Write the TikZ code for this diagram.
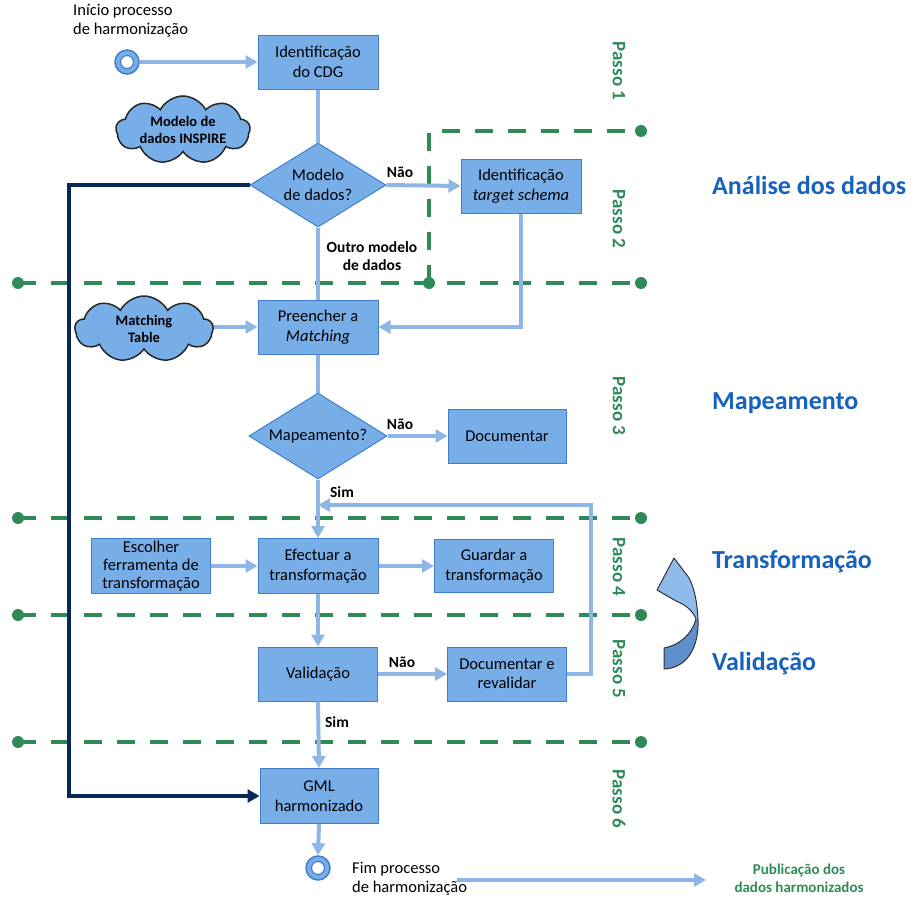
\documentclass[tikz,border=0pt]{standalone}
\usepackage{fontspec}
\setmainfont{Carlito}
\usetikzlibrary{arrows.meta,shapes.geometric,shapes.symbols}
\definecolor{boxfill}{RGB}{120,174,232}
\definecolor{boxline}{RGB}{66,125,200}
\definecolor{conn}{RGB}{141,182,230}
\definecolor{navy}{RGB}{8,40,88}
\definecolor{grn}{RGB}{46,139,87}
\definecolor{ttl}{RGB}{22,98,188}
\definecolor{arrlight}{RGB}{142,187,234}
\definecolor{arrdark}{RGB}{94,143,203}
\begin{document}
\begin{tikzpicture}[x=1pt,y=-1pt,
  box/.style={draw=boxline, line width=1pt, fill=boxfill, minimum width=120pt, minimum height=54pt, align=center, inner sep=1pt, font=\fontsize{16.5}{19.5}\selectfont},
  dia/.style={diamond, draw=boxline, line width=1pt, fill=boxfill, aspect=1.6, inner sep=0pt, minimum width=136pt, minimum height=84pt, align=center, font=\fontsize{16.5}{19.5}\selectfont},
  cld/.style={cloud, cloud puffs=9, cloud puff arc=125, cloud ignores aspect, draw=black!85, line width=1.5pt, fill=boxfill, inner sep=0pt},
  cldtxt/.style={align=center, inner sep=0pt, font=\bfseries\fontsize{14.5}{17.5}\selectfont},
  term/.style={circle, draw=boxline, line width=1.5pt, fill=boxfill, minimum size=24pt, inner sep=0pt},
  conline/.style={draw=conn, line width=4pt},
  arr/.style={conline, -{Triangle[length=12pt,width=13pt]}},
  navyarr/.style={draw=navy, line width=4pt, -{Triangle[length=12pt,width=13pt]}},
  gdash/.style={draw=grn, line width=4pt, dash pattern=on 18pt off 15pt},
  gdot/.style={circle, fill=grn, minimum size=12pt, inner sep=0pt},
  lbl/.style={font=\bfseries\fontsize{15.5}{18}\selectfont, inner sep=0pt},
  passo/.style={text=grn, rotate=-90, font=\bfseries\fontsize{19}{22}\selectfont},
  ttlstyle/.style={text=ttl, anchor=west, inner sep=0pt, font=\bfseries\fontsize{26}{30}\selectfont},
  plain/.style={align=left, font=\fontsize{16.5}{19}\selectfont, inner sep=0pt}
]
\useasboundingbox (0,0) rectangle (922,902);

% ---------- green step separators ----------
\node[gdot] (g1l) at (18,283) {};
\node[gdot] (g1r) at (641,283) {};
\node[gdot] (g1m) at (429,283) {};
\node[gdot] (g0r) at (641,131) {};
\node[gdot] (g2l) at (18,518) {};
\node[gdot] (g2r) at (641,518) {};
\node[gdot] (g3l) at (18,615) {};
\node[gdot] (g3r) at (641,615) {};
\node[gdot] (g4l) at (18,742) {};
\node[gdot] (g4r) at (641,742) {};
\draw[gdash] (g1l.center) -- (g1r.center);
\draw[gdash] (g1m.center) |- (g0r.center);
\draw[gdash] (g2l.center) -- (g2r.center);
\draw[gdash] (g3l.center) -- (g3r.center);
\draw[gdash] (g4l.center) -- (g4r.center);

\node[passo] (p1) at (619,71) {Passo 1};
\node[passo] (p2) at (619,219) {Passo 2};
\node[passo] (p3) at (619,406) {Passo 3};
\node[passo] (p4) at (619,567) {Passo 4};
\node[passo] (p5) at (619,669) {Passo 5};
\node[passo] (p6) at (619,799) {Passo 6};

% ---------- titles ----------
\node[ttlstyle] (t1) at (712,185) {Análise dos dados};
\node[ttlstyle] (t2) at (712,403) {Mapeamento};
\node[ttlstyle] (t3) at (712,562) {Transformação};
\node[ttlstyle] (t4) at (712,664) {Validação};

% curved arrow
\def\curvarrow{(674,558) -- (657,590) -- (676,601)
  .. controls (686,605) and (693,611) .. (696,619)
  .. controls (692,634) and (680,645) .. (664,648)
  -- (664,669) .. controls (688,668) and (699,646) .. (698,620)
  .. controls (697,602) and (695,590) .. (689,578) -- cycle}
\path[fill=arrlight] \curvarrow;
\begin{scope}
\clip (650,619) rectangle (710,680);
\path[fill=arrdark] \curvarrow;
\end{scope}
\draw[line width=1pt, draw=black!80, line join=round] \curvarrow;

% ---------- nodes ----------
\node[term] (start) at (127,62) {};
\draw[draw=boxline, line width=1.2pt, fill=white] (start.center) circle[radius=6.5];
\node[plain, anchor=west] (startlbl) at (73,21) {Início processo\\de harmonização};

\node[box] (cdg) at (318,62) {Identificação\\do CDG};
\node[dia] (d1) at (318,185) {Modelo\\de dados?};
\node[box] (tgt) at (521,186) {Identificação\\\textit{target schema}};
\node[cld, minimum width=134pt, minimum height=68pt] (c1) at (183,130) {};
\node[cldtxt] (c1t) at (c1.center) {Modelo de\\dados INSPIRE};

\node[box] (prc) at (318,327) {Preencher a\\\textit{Matching}};
\node[cld, minimum width=138pt, minimum height=66pt] (c2) at (144,329) {};
\node[cldtxt] (c2t) at (c2.center) {Matching\\Table};

\node[dia, minimum width=138pt, minimum height=86pt] (d2) at (318,436) {Mapeamento?};
\node[box, minimum width=118pt] (doc) at (507,436) {Documentar};

\node[box, minimum width=119pt, minimum height=55pt, inner ysep=0pt, font=\fontsize{16.5}{18}\selectfont] (esc) at (151,566) {Escolher\\ferramenta de\\transformação};
\node[box, minimum height=55pt] (efe) at (318,566) {Efectuar a\\transformação};
\node[box, minimum width=119pt, minimum height=53pt] (gua) at (494,566) {Guardar a\\transformação};

\node[box, minimum width=119pt] (val) at (318,674) {Validação};
\node[box, minimum width=119pt] (docr) at (507,674) {Documentar e\\revalidar};

\node[box, minimum width=118pt, minimum height=55pt] (gml) at (319,796) {GML\\harmonizado};
\node[term] (end) at (318,868) {};
\draw[draw=boxline, line width=1.2pt, fill=white] (end.center) circle[radius=6.5];
\node[plain, anchor=west] (endlbl) at (352,879) {Fim processo\\de harmonização};
\node[align=center, text=grn, inner sep=0pt, font=\bfseries\fontsize{15}{18}\selectfont] (pub) at (799,878) {Publicação dos\\dados harmonizados};

% ---------- connectors ----------
\coordinate (dk) at (69,796);
\draw[navyarr] (d1.west) -| (dk) -- (gml.west);

\draw[arr] (start.east) -- (cdg.west);
\draw[conline] (cdg.south) -- (d1.north);
\draw[arr] (d1.east) -- (tgt.west);
\draw[arr] (tgt.south) |- (prc.east);
\draw[conline] (d1.south) -- (prc.north);
\draw[arr] (c2.east |- prc.west) -- (prc.west);
\draw[conline] (prc.south) -- (d2.north);
\draw[arr] (d2.east) -- (doc.west);
\draw[arr] (d2.south) -- (efe.north);
\coordinate (fb) at (591,505);
\draw[arr] (docr.east) -| (fb) -- (d2.south |- fb);
\draw[arr] (esc.east) -- (efe.west);
\draw[arr] (efe.east) -- (gua.west);
\draw[arr] (efe.south) -- (val.north);
\draw[arr] (val.east) -- (docr.west);
\draw[arr] (val.south) -- (gml.north);
\draw[arr] (gml.south) -- (end.north);
\coordinate (pa) at (457,880);
\coordinate (pb) at (706,880);
\draw[arr] (pa) -- (pb);

% ---------- labels ----------
\node[lbl] (n1) at (400,172) {Não};
\node[lbl, align=center] (outro) at (372,256) {Outro modelo\\de dados};
\node[lbl] (n2) at (400,424) {Não};
\node[lbl] (s1) at (342,492) {Sim};
\node[lbl] (n3) at (402,662) {Não};
\node[lbl] (s2) at (337,722) {Sim};
\end{tikzpicture}
\end{document}
